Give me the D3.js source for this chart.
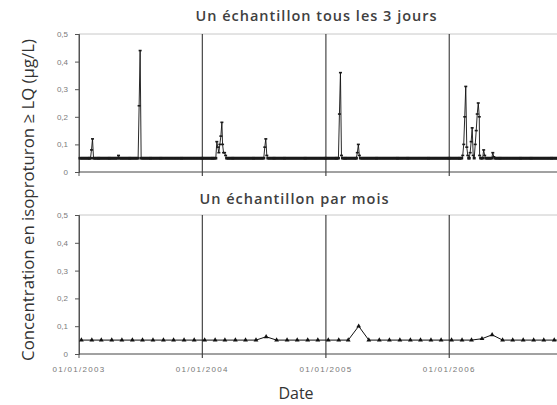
<!DOCTYPE html>
<html>
<head>
<meta charset="utf-8">
<script src="https://cdn.jsdelivr.net/npm/d3@7"></script>
<style>
  body { margin: 0; background: #fff; }
  svg { display: block; }
</style>
</head>
<body>
<div id="chart"></div>
<script>
var width = 557, height = 405;

// limite de quantification : les valeurs < LQ sont tracées à la LQ
var LQ = 0.05;

// pics du suivi "tous les 3 jours" (dates et valeurs)
var peakDates = [
  '2003-02-06', '2003-02-09', '2003-04-28', '2003-06-28', '2003-07-01',
  '2004-02-13', '2004-02-16', '2004-02-19', '2004-02-22', '2004-02-25', '2004-02-28',
  '2004-03-02', '2004-03-05', '2004-03-08', '2004-03-11',
  '2004-07-04', '2004-07-07', '2004-07-10',
  '2005-02-11', '2005-02-14', '2005-02-17', '2005-04-05', '2005-04-08', '2005-04-11',
  '2006-02-10', '2006-02-13', '2006-02-16', '2006-02-19', '2006-02-22', '2006-02-25',
  '2006-03-03', '2006-03-06', '2006-03-09', '2006-03-12',
  '2006-03-18', '2006-03-21', '2006-03-24', '2006-03-27', '2006-03-30', '2006-04-02',
  '2006-04-14', '2006-04-17', '2006-05-09', '2006-05-12'
];
var peakValues = [
  0.08, 0.12, 0.06, 0.24, 0.44,
  0.11, 0.09, 0.07, 0.10, 0.13, 0.18,
  0.10, 0.07, 0.07, 0.06,
  0.09, 0.12, 0.06,
  0.21, 0.36, 0.06, 0.07, 0.10, 0.06,
  0.06, 0.10, 0.20, 0.31, 0.09, 0.06,
  0.07, 0.11, 0.16, 0.06,
  0.10, 0.15, 0.21, 0.25, 0.20, 0.06,
  0.08, 0.06, 0.07, 0.055
];

// suivi mensuel, janvier 2003 -> décembre 2006
var monthValues = [
  0.05, 0.05, 0.05, 0.05, 0.05, 0.05, 0.05, 0.05, 0.05, 0.05, 0.05, 0.05,
  0.05, 0.05, 0.05, 0.05, 0.05, 0.05, 0.062, 0.05, 0.05, 0.05, 0.05, 0.05,
  0.05, 0.05, 0.05, 0.10, 0.05, 0.05, 0.05, 0.05, 0.05, 0.05, 0.05, 0.05,
  0.05, 0.05, 0.05, 0.055, 0.069, 0.05, 0.05, 0.05, 0.05, 0.05, 0.05, 0.05
];

var yTicks = [0, 0.1, 0.2, 0.3, 0.4, 0.5];
var yearTicks = ['2003-01-01', '2004-01-01', '2005-01-01', '2006-01-01'];
var titles = ['Un échantillon tous les 3 jours', 'Un échantillon par mois'];

var parse = d3.timeParse('%Y-%m-%d');
var fmtTick = d3.timeFormat('%d/%m/%Y');
var fmtY = function (v) { return v === 0 ? '0' : d3.format('.1f')(v).replace('.', ','); };

// dates de prélèvement tous les 3 jours, valeur LQ sauf pics lus
var peaks = peakDates.map(function (d, i) { return { date: parse(d), value: peakValues[i] }; });
var days3 = d3.timeDay.every(3).range(parse('2003-01-02'), parse('2007-01-01'));
var serie3j = days3.map(function (d) {
  var p = peaks.find(function (k) { return Math.abs(k.date - d) < 1.5 * 864e5; });
  return { date: d, value: p ? p.value : LQ };
});
var serieMois = monthValues.map(function (v, i) {
  return { date: new Date(2003, i, 8), value: v };
});

var x = d3.scaleTime()
  .domain([parse('2003-01-01'), parse('2007-01-01')])
  .range([79, 572.5]);

var panels = [
  { y: d3.scaleLinear().domain([0, 0.5]).range([172, 34]), data: serie3j, title: titles[0], tx: 316.5, ty: 20.5 },
  { y: d3.scaleLinear().domain([0, 0.5]).range([354, 215]), data: serieMois, title: titles[1], tx: 294.5, ty: 203.5 }
];

var svg = d3.select('#chart').append('svg')
  .attr('width', width)
  .attr('height', height);

panels.forEach(function (p, pi) {
  var g = svg.append('g');

  // bord supérieur gris
  g.append('line')
    .attr('x1', x.range()[0]).attr('x2', width)
    .attr('y1', p.y(0.5)).attr('y2', p.y(0.5))
    .attr('stroke', '#c8c8c8').attr('stroke-width', 1);

  // axe y
  var yAxis = d3.axisLeft(p.y).tickValues(yTicks).tickFormat(fmtY).tickSize(4).tickPadding(7);
  var ga = g.append('g').attr('transform', 'translate(79,0)').call(yAxis);
  ga.select('.domain').attr('stroke', '#555');
  ga.selectAll('.tick line').attr('stroke', '#555');
  ga.selectAll('text')
    .attr('fill', '#7a7a7a')
    .style('font-family', 'Liberation Sans, Arial, sans-serif')
    .style('font-size', '8px');

  // lignes verticales des années
  g.selectAll('.year')
    .data(yearTicks.map(parse))
    .enter().append('line')
    .attr('x1', function (d) { return x(d); })
    .attr('x2', function (d) { return x(d); })
    .attr('y1', p.y(0.5))
    .attr('y2', p.y(0) + 4)
    .attr('stroke', function (d, i) { return i === 0 ? '#555' : '#222'; })
    .attr('stroke-width', 1);

  // axe x
  g.append('line')
    .attr('x1', x.range()[0]).attr('x2', width)
    .attr('y1', p.y(0)).attr('y2', p.y(0))
    .attr('stroke', '#444').attr('stroke-width', 1);

  // titre
  g.append('text')
    .attr('x', p.tx).attr('y', p.ty)
    .attr('text-anchor', 'middle')
    .style('font-family', 'Open Sans, sans-serif')
    .style('font-size', '14.5px')
    .style('font-weight', 600)
    .style('letter-spacing', '1px')
    .attr('fill', '#404040')
    .text(p.title);

  var line = d3.line()
    .x(function (d) { return x(d.date); })
    .y(function (d) { return p.y(d.value); });

  g.append('path')
    .datum(p.data)
    .attr('d', line)
    .attr('fill', 'none')
    .attr('stroke', '#111')
    .attr('stroke-width', pi === 0 ? 0.9 : 1);

  if (pi === 0) {
    // marqueurs en tirets
    g.selectAll('.m')
      .data(p.data)
      .enter().append('rect')
      .attr('x', function (d) { return x(d.date) - 1.5; })
      .attr('y', function (d) { return p.y(d.value) - (d.value > LQ ? 0.8 : 1.3); })
      .attr('width', 3)
      .attr('height', function (d) { return d.value > LQ ? 1.6 : 2.6; })
      .attr('fill', '#1a1a1a');
  } else {
    // marqueurs triangles
    g.selectAll('.m')
      .data(p.data)
      .enter().append('path')
      .attr('d', d3.symbol().type(d3.symbolTriangle).size(10))
      .attr('transform', function (d) { return 'translate(' + x(d.date) + ',' + p.y(d.value) + ')'; })
      .attr('fill', '#111');
  }
});

// étiquettes de dates sous le second panneau
svg.append('g').selectAll('text')
  .data(yearTicks.map(parse))
  .enter().append('text')
  .attr('x', function (d) { return x(d); })
  .attr('y', 372)
  .attr('text-anchor', 'middle')
  .attr('fill', '#777')
  .style('font-family', 'Liberation Sans, Arial, sans-serif')
  .style('font-size', '8px')
  .style('letter-spacing', '1.3px')
  .text(function (d) { return fmtTick(d); });

svg.append('text')
  .attr('x', 296).attr('y', 399)
  .attr('text-anchor', 'middle')
  .style('font-family', 'Open Sans, sans-serif')
  .style('font-size', '16px')
  .attr('fill', '#333')
  .text('Date');

svg.append('text')
  .attr('transform', 'translate(34,200) rotate(-90)')
  .attr('text-anchor', 'middle')
  .style('font-family', 'Open Sans, sans-serif')
  .style('font-size', '16.8px')
  .attr('fill', '#333')
  .text('Concentration en isoproturon \u2265 LQ (\u00b5g/L)');
</script>
</body>
</html>
